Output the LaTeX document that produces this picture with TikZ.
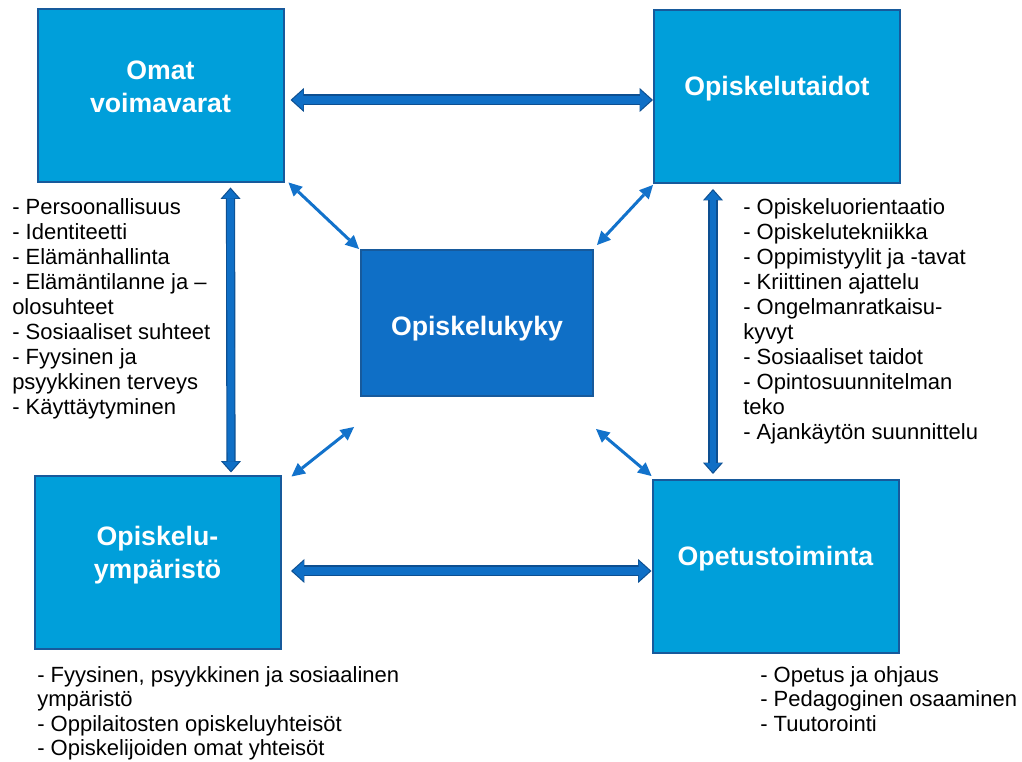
\documentclass[tikz,border=0pt]{standalone}
\usepackage{fontspec}
\setmainfont{Liberation Sans}
\usetikzlibrary{arrows.meta,calc}
\definecolor{outerfill}{HTML}{009FDA}
\definecolor{centerfill}{HTML}{0F6FC6}
\definecolor{boxborder}{HTML}{175A9C}
\definecolor{arrowfill}{HTML}{0F6FC6}
\definecolor{arrowdark}{HTML}{0D4F91}
\definecolor{thinarrow}{HTML}{1272CB}
\begin{document}
\begin{tikzpicture}[x=0.75pt,y=-0.75pt,
  obox/.style={draw=boxborder, line width=1.5pt, fill=outerfill, minimum width=184.5pt, minimum height=129.75pt, inner sep=0pt},
  cbox/.style={draw=boxborder, line width=1.5pt, fill=centerfill, minimum width=174pt, minimum height=109.5pt, inner sep=0pt},
  boxtext/.style={text=white, font=\fontsize{20}{24.75}\selectfont\bfseries, align=center, inner sep=0pt},
  listtext/.style={anchor=north west, inner sep=0pt, align=left, font=\fontsize{16.5}{18.75}\selectfont},
  btmtext/.style={anchor=north west, inner sep=0pt, align=left, font=\fontsize{16.5}{18.3}\selectfont},
  hout/.style={line width=8.25pt, draw=arrowdark, {Triangle[length=10pt,width=18pt,line width=0pt]}-{Triangle[length=10pt,width=18pt,line width=0pt]}},
  hin/.style={line width=6.5pt, draw=arrowfill, shorten <=1.3pt, shorten >=1.3pt, {Triangle[length=8.3pt,width=15pt,line width=0pt]}-{Triangle[length=8.3pt,width=15pt,line width=0pt]}},
  vout/.style={line width=6.9pt, draw=arrowdark, {Triangle[length=8.5pt,width=15pt,line width=0pt]}-{Triangle[length=8.5pt,width=15pt,line width=0pt]}},
  vin/.style={line width=5.2pt, draw=arrowfill, shorten <=1.3pt, shorten >=1.3pt, {Triangle[length=6.8pt,width=12pt,line width=0pt]}-{Triangle[length=6.8pt,width=12pt,line width=0pt]}},
  thin/.style={line width=2.25pt, draw=thinarrow, {Triangle[length=10pt,width=10pt,line width=0pt]}-{Triangle[length=10pt,width=10pt,line width=0pt]}}
]
\useasboundingbox (0,0) rectangle (1022,762);

\node[obox, label={[boxtext, yshift=6.75pt]center:Omat\\voimavarat}] (tl) at (160.5,96) {};
\node[obox, label={[boxtext, yshift=5.6pt]center:Opiskelutaidot}] (tr) at (777,96.5) {};
\node[obox, label={[boxtext, yshift=6pt]center:Opiskelu-\\ympäristö}] (bl) at (157.5,563) {};
\node[obox, label={[boxtext, yshift=5.6pt]center:Opetustoiminta}] (br) at (775.5,566.5) {};
\node[cbox, label={[boxtext, yshift=-4.5pt]center:Opiskelukyky}] (c) at (477,323) {};

% block arrows
\coordinate (h1a) at ($(tl.east)+(6,4)$);
\coordinate (h1b) at ($(tr.west)+(0,3.5)$);
\coordinate (h2a) at ($(bl.east)+(9.5,8)$);
\coordinate (h2b) at ($(br.west)+(0,4.5)$);
\coordinate (v1a) at ($(tl.south east)+(-54,4)$);
\coordinate (v1b) at ($(bl.north east)+(-50.5,-3)$);
\coordinate (v2a) at ($(tr.south west)+(60,5)$);
\coordinate (v2b) at ($(br.north west)+(61.5,-5)$);
\draw[hout] (h1a) -- (h1b);
\draw[hin] (h1a) -- (h1b);
\draw[hout] (h2a) -- (h2b);
\draw[hin] (h2a) -- (h2b);
\draw[vout] (v1a) -- (v1b);
\draw[vin] (v1a) -- (v1b);
\draw[vout] (v2a) -- (v2b);
\draw[vin] (v2a) -- (v2b);

% thin diagonal arrows
\draw[thin] ($(tl.south east)+(4,-1)$) -- ($(c.north west)+(-1,0)$);
\draw[thin] ($(tr.south west)+(0,1)$) -- ($(c.north east)+(3,-4)$);
\draw[thin] ($(bl.north east)+(10,1)$) -- ($(c.south west)+(-6,30)$);
\draw[thin] ($(c.south east)+(2,32)$) -- ($(br.north west)+(0,-3)$);

% lists
\node[listtext] (l1) at (12,198) {- Persoonallisuus\\- Identiteetti\\- Elämänhallinta\\- Elämäntilanne ja –\\olosuhteet\\- Sosiaaliset suhteet\\- Fyysinen ja\\psyykkinen terveys\\- Käyttäytyminen};
\node[listtext] (l2) at (743,198) {- Opiskeluorientaatio\\- Opiskelutekniikka\\- Oppimistyylit ja -tavat\\- Kriittinen ajattelu\\- Ongelmanratkaisu-\\kyvyt\\- Sosiaaliset taidot\\- Opintosuunnitelman\\teko\\- Ajankäytön suunnittelu};
\node[btmtext] (l3) at (37,666) {- Fyysinen, psyykkinen ja sosiaalinen\\ympäristö\\- Oppilaitosten opiskeluyhteisöt\\- Opiskelijoiden omat yhteisöt};
\node[btmtext] (l4) at (760,666) {- Opetus ja ohjaus\\- Pedagoginen osaaminen\\- Tuutorointi};
\end{tikzpicture}
\end{document}
